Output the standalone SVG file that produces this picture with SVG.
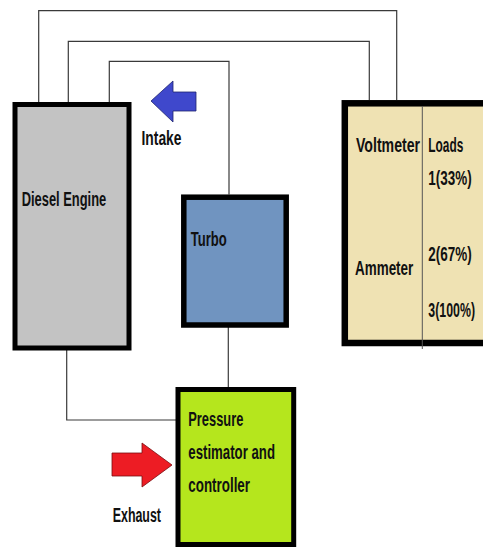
<svg xmlns="http://www.w3.org/2000/svg" width="483" height="548" viewBox="0 0 483 548">
<style>
.wire{fill:none;stroke:#3a3a3a;stroke-width:1.2}
.box{stroke:#000}
.t{font-family:"Liberation Sans Narrow","Liberation Sans",Arial,sans-serif;font-weight:bold;font-size:20px;fill:#111}
</style>
<rect width="483" height="548" fill="#fff"/>
<g id="connectors">
<polyline class="wire" points="38.7,102 38.7,10.7 396.7,10.7 396.7,100"/>
<polyline class="wire" points="68.3,102 68.3,41.3 369.3,41.3 369.3,100"/>
<polyline class="wire" points="109.3,102 109.3,61.3 229,61.3 229,194.5"/>
<line class="wire" x1="228.3" y1="327" x2="228.3" y2="387"/>
<polyline class="wire" points="66.7,350 66.7,420 176.5,420"/>
</g>
<g id="intake-arrow">
<polygon points="151,101 173,81 173,92 196,92 196,111 173,111 173,122" fill="#3f48cc" stroke="#1e2470" stroke-width="0.8"/>
<text class="t" x="141.5" y="145" textLength="40" lengthAdjust="spacingAndGlyphs">Intake</text>
</g>
<g id="diesel-engine">
<rect class="box" x="15" y="104.5" width="114" height="243.5" fill="#c3c3c3" stroke-width="5"/>
<text class="t" x="21.7" y="205.5" textLength="84.5" lengthAdjust="spacingAndGlyphs">Diesel Engine</text>
</g>
<g id="turbo">
<rect class="box" x="183.8" y="197.2" width="102.4" height="127.8" fill="#7094c0" stroke-width="5.5"/>
<text class="t" x="190.7" y="246" textLength="36" lengthAdjust="spacingAndGlyphs">Turbo</text>
</g>
<g id="meters">
<rect class="box" x="344.8" y="103.3" width="200" height="239.7" fill="#efe2b3" stroke-width="6.5"/>
<line x1="422.3" y1="106" x2="422.3" y2="349" stroke="#555" stroke-width="1"/>
<text class="t" x="356" y="151.5" textLength="64" lengthAdjust="spacingAndGlyphs">Voltmeter</text>
<text class="t" x="355" y="275" textLength="58.3" lengthAdjust="spacingAndGlyphs">Ammeter</text>
<text class="t" x="428.3" y="151.5" textLength="35" lengthAdjust="spacingAndGlyphs">Loads</text>
<text class="t" x="428.3" y="185" textLength="43.4" lengthAdjust="spacingAndGlyphs">1(33%)</text>
<text class="t" x="428.3" y="261" textLength="43.4" lengthAdjust="spacingAndGlyphs">2(67%)</text>
<text class="t" x="428.3" y="317" textLength="46.7" lengthAdjust="spacingAndGlyphs">3(100%)</text>
</g>
<g id="pressure-controller">
<rect class="box" x="178" y="389.5" width="115.7" height="155" fill="#b5e61d" stroke-width="5"/>
<text class="t" x="188.3" y="426" textLength="55" lengthAdjust="spacingAndGlyphs">Pressure</text>
<text class="t" x="188.3" y="459" textLength="86.7" lengthAdjust="spacingAndGlyphs">estimator and</text>
<text class="t" x="188.3" y="492" textLength="61.7" lengthAdjust="spacingAndGlyphs">controller</text>
</g>
<g id="exhaust-arrow">
<polygon points="112,453 142,453 142,443 172,465 142,487 142,476 112,476" fill="#ed1c24" stroke="#7a0d10" stroke-width="0.8"/>
<text class="t" x="112.7" y="521.5" textLength="48.3" lengthAdjust="spacingAndGlyphs">Exhaust</text>
</g>
</svg>
